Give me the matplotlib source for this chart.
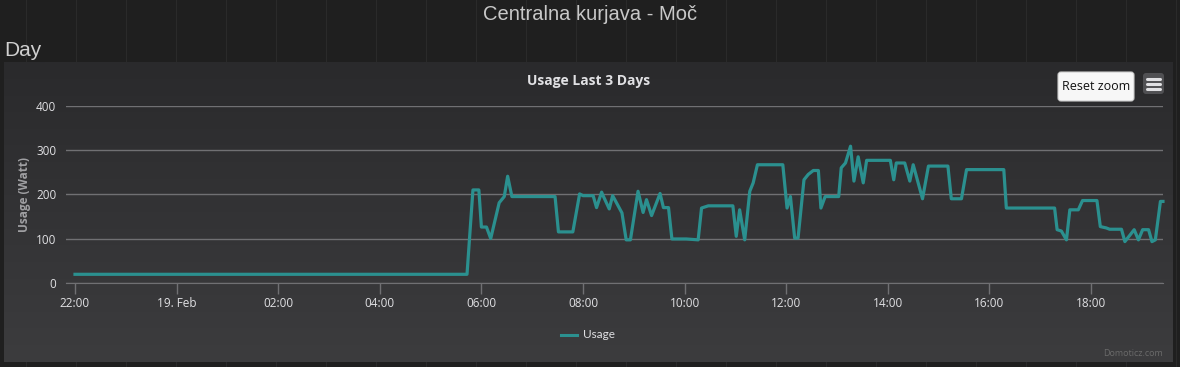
import numpy as np
import pandas as pd
import matplotlib
import matplotlib.pyplot as plt
import matplotlib.dates as mdates
from matplotlib.patches import FancyBboxPatch

matplotlib.use('agg')

page_title = "Centralna kurjava - Moč"
section = "Day"
chart_title = "Usage Last 3 Days"
y_label = "Usage (Watt)"
series_name = "Usage"

# readings (time, watt)
times = [
    "2018-02-18 22:00", "2018-02-19 05:43", "2018-02-19 05:50", "2018-02-19 05:57",
    "2018-02-19 06:00", "2018-02-19 06:06", "2018-02-19 06:11", "2018-02-19 06:21",
    "2018-02-19 06:27", "2018-02-19 06:31", "2018-02-19 06:36", "2018-02-19 07:27",
    "2018-02-19 07:31", "2018-02-19 07:48", "2018-02-19 07:56", "2018-02-19 08:00",
    "2018-02-19 08:12", "2018-02-19 08:16", "2018-02-19 08:22", "2018-02-19 08:23",
    "2018-02-19 08:31", "2018-02-19 08:35", "2018-02-19 08:46", "2018-02-19 08:51",
    "2018-02-19 08:56", "2018-02-19 09:05", "2018-02-19 09:11", "2018-02-19 09:15",
    "2018-02-19 09:21", "2018-02-19 09:31", "2018-02-19 09:35", "2018-02-19 09:41",
    "2018-02-19 09:45", "2018-02-19 10:02", "2018-02-19 10:16", "2018-02-19 10:20",
    "2018-02-19 10:28", "2018-02-19 10:57", "2018-02-19 11:01", "2018-02-19 11:05",
    "2018-02-19 11:11", "2018-02-19 11:17", "2018-02-19 11:21", "2018-02-19 11:26",
    "2018-02-19 11:56", "2018-02-19 12:01", "2018-02-19 12:05", "2018-02-19 12:10",
    "2018-02-19 12:14", "2018-02-19 12:21", "2018-02-19 12:26", "2018-02-19 12:32",
    "2018-02-19 12:38", "2018-02-19 12:41", "2018-02-19 12:46", "2018-02-19 13:02",
    "2018-02-19 13:05", "2018-02-19 13:10", "2018-02-19 13:16", "2018-02-19 13:20",
    "2018-02-19 13:25", "2018-02-19 13:31", "2018-02-19 13:35", "2018-02-19 14:03",
    "2018-02-19 14:07", "2018-02-19 14:10", "2018-02-19 14:20", "2018-02-19 14:26",
    "2018-02-19 14:30", "2018-02-19 14:41", "2018-02-19 14:48", "2018-02-19 15:11",
    "2018-02-19 15:15", "2018-02-19 15:27", "2018-02-19 15:33", "2018-02-19 16:17",
    "2018-02-19 16:20", "2018-02-19 17:17", "2018-02-19 17:20", "2018-02-19 17:25",
    "2018-02-19 17:31", "2018-02-19 17:35", "2018-02-19 17:45", "2018-02-19 17:50",
    "2018-02-19 18:07", "2018-02-19 18:11", "2018-02-19 18:18", "2018-02-19 18:22",
    "2018-02-19 18:36", "2018-02-19 18:40", "2018-02-19 18:51", "2018-02-19 18:56",
    "2018-02-19 19:01", "2018-02-19 19:08", "2018-02-19 19:12", "2018-02-19 19:16",
    "2018-02-19 19:22", "2018-02-19 19:25",
]
usage = [
    19, 19, 210, 210,
    126, 126, 100, 181,
    195, 241, 195, 195,
    115, 115, 201, 197,
    197, 170, 205, 200,
    167, 197, 158, 97,
    97, 207, 159, 188,
    152, 202, 170, 170,
    99, 99, 97, 169,
    174, 174, 105, 165,
    97, 207, 226, 267,
    267, 169, 195, 101,
    101, 233, 245, 254,
    254, 169, 195, 195,
    260, 271, 309, 230,
    285, 226, 277, 277,
    233, 271, 271, 230,
    267, 190, 264, 264,
    190, 190, 256, 256,
    169, 169, 120, 117,
    97, 165, 165, 186,
    186, 127, 124, 121,
    121, 93, 120, 97,
    120, 120, 93, 97,
    184, 184,
]
y_ticks = [0, 100, 200, 300, 400]

W, H = 1180, 367
fig = plt.figure(figsize=(W / 100, H / 100), dpi=100)
fig.patch.set_facecolor('#1f1f1f')

# page background with faint vertical streaks
bg = fig.add_axes([0, 0, 1, 1])
bg.set_xlim(0, W)
bg.set_ylim(H, 0)
bg.axis('off')
for sx in range(26, W, 50):
    bg.plot([sx, sx], [0, H], color='#2a2a2a', lw=0.8, zorder=0)

# chart panel with vertical gradient
grad = np.linspace(0, 1, 256).reshape(-1, 1)
cmap = matplotlib.colors.LinearSegmentedColormap.from_list('p', ['#2a2a2c', '#3c3c3e'])
bg.imshow(grad, cmap=cmap, extent=(4, 1173, 362, 62), aspect='auto', zorder=1)

fig.text(590 / W, 1 - 15 / H, page_title, ha='center', va='center', fontsize=14.5,
         family='Liberation Sans', color='#c8c8c8')
fig.text(4 / W, 1 - 50 / H, section, ha='left', va='center', fontsize=15,
         family='Liberation Sans', color='#d0d0d0')
fig.text(589 / W, 1 - 81 / H, chart_title, ha='center', va='center', fontsize=10,
         family='Open Sans', weight='bold', color='#e0e0e3')

# reset zoom button + menu icon
bg.add_patch(FancyBboxPatch((1058, 72), 76, 29, boxstyle='round,pad=0,rounding_size=3',
                            fc='#f7f7f7', ec='#cccccc', lw=0.8, zorder=3))
bg.text(1096, 86.5, "Reset zoom", ha='center', va='center', fontsize=9,
        family='Open Sans', color='#111111', zorder=4)
bg.add_patch(FancyBboxPatch((1143, 73), 21, 21, boxstyle='round,pad=0,rounding_size=3',
                            fc='#505053', ec='none', zorder=3))
for ly in (78.5, 83.5, 88.5):
    bg.plot([1147, 1160], [ly, ly], color='#e0e0e3', lw=2.2, solid_capstyle='round', zorder=4)

# legend + credit
bg.plot([561, 577], [335, 335], color='#2b908f', lw=2.2, zorder=4)
bg.text(583, 335, series_name, ha='left', va='center', fontsize=8.5,
        family='Lato', color='#e0e0e3', zorder=4)
bg.text(1163, 353, "Domoticz.com", ha='right', va='center', fontsize=6.5,
        family='Open Sans', color='#6a6a6a', zorder=4)

# plot area
x0, x1, ytop, ybot = 66, 1163, 106, 282.7
ax = fig.add_axes([x0 / W, 1 - ybot / H, (x1 - x0) / W, (ybot - ytop) / H])
ax.patch.set_alpha(0)

t = pd.to_datetime(times)
ax.plot(t, usage, color='#2b908f', lw=2.3, solid_joinstyle='round', zorder=3, clip_on=False)

start = pd.Timestamp("2018-02-18 22:00")
per_hour = 50.8
ax.set_xlim(start - pd.Timedelta(hours=(75 - x0) / per_hour),
            start + pd.Timedelta(hours=(x1 - 75) / per_hour))
ax.set_ylim(0, 400)

ax.set_yticks(y_ticks)
ax.yaxis.grid(True, color='#707073', lw=1)
ax.set_axisbelow(True)
ax.tick_params(axis='y', length=0, pad=7, labelsize=8.5, labelcolor='#e0e0e3')
for lab in ax.get_yticklabels():
    lab.set_family('Open Sans')

ax.xaxis.set_major_locator(mdates.HourLocator(byhour=range(0, 24, 2)))


def fmt(v, pos):
    d = mdates.num2date(v)
    if d.hour == 0:
        return d.strftime('%d. %b').lstrip('0')
    return d.strftime('%H:%M')


ax.xaxis.set_major_formatter(plt.FuncFormatter(fmt))
ax.tick_params(axis='x', length=8, width=1, color='#707073', pad=2, labelsize=8.5,
               labelcolor='#e0e0e3')
for lab in ax.get_xticklabels():
    lab.set_family('Open Sans')

for side in ('top', 'right', 'left'):
    ax.spines[side].set_visible(False)
ax.spines['bottom'].set_color('#707073')

ax.set_ylabel(y_label, fontsize=8.5, family='Open Sans', weight='bold', color='#a0a0a3')
ax.yaxis.set_label_coords(-(66 - 31) / (x1 - x0), 0.5)

fig.savefig('out.png', dpi=100, facecolor=fig.get_facecolor())
